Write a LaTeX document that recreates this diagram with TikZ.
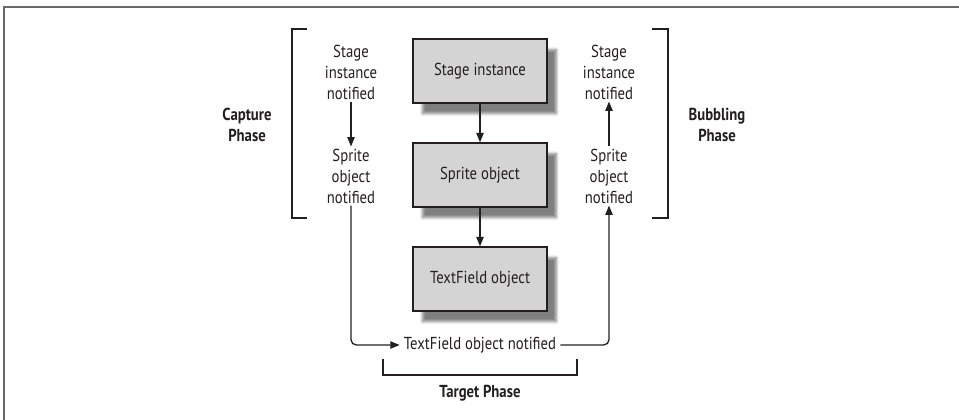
\documentclass[tikz,border=0pt]{standalone}
\usepackage{fontspec}
\setmainfont{PT Sans}[FakeStretch=0.85]
\usepackage{tikz}
\usetikzlibrary{arrows.meta, positioning, shadows.blur}
\definecolor{cInk}{RGB}{35,31,32}
\definecolor{cBox}{RGB}{212,212,212}
\definecolor{cFrame}{RGB}{105,105,105}
\tikzset{
	objbox/.style   ={rectangle, draw=cInk, line width=1pt, fill=cBox, minimum width=100.5pt, minimum height=48pt, align=center, blur shadow={shadow xshift=7pt, shadow yshift=-8pt, shadow blur steps=6, shadow opacity=50}},
	notice/.style   ={align=center, inner sep=1.5pt},
	phase/.style    ={align=center, font=\fontsize{13pt}{15.75pt}\selectfont\bfseries},
	flowarrow/.style={-{Triangle[length=7pt, width=5.5pt]}, line width=1pt, cInk},
	% brackets around the phases
	bracket/.style  ={line width=1pt, cInk},
}
\begin{document}
\begin{tikzpicture}[x=0.75pt, y=-0.75pt, font=\fontsize{13pt}{15.75pt}\selectfont, text=cInk]
	\useasboundingbox (0,0) rectangle (959,420);
	\draw[cFrame, line width=1.2pt] (4,420) -- (4,7) -- (959,7);
	% object chain
	\node[objbox] (stage)  at (480,71)  {Stage instance};
	\node[objbox] (sprite) at (480,175) {Sprite object};
	\node[objbox] (field)  at (480,279) {TextField object};
	\draw[flowarrow] (stage.south) -- (sprite.north);
	\draw[flowarrow] (sprite.south) -- (field.north);
	% capture side
	\node[notice] (capStage)  at (351,72)  {Stage\\instance\\notified};
	\node[notice] (capSprite) at (351,176) {Sprite\\object\\notified};
	\draw[flowarrow] (capStage.south) -- (capSprite.north);
	% bubbling side
	\node[notice] (bubStage)  at (609,72)  {Stage\\instance\\notified};
	\node[notice] (bubSprite) at (609,176) {Sprite\\object\\notified};
	\draw[flowarrow] (bubSprite.north) -- (bubStage.south);
	% target
	\node[notice, inner sep=3pt] (fieldNote) at (480,345) {TextField object notified};
	\draw[flowarrow, rounded corners=4pt] (capSprite.south) |- (fieldNote.west);
	\draw[flowarrow, rounded corners=4pt] (fieldNote.east) -| (bubSprite.south);
	% phases
	\draw[bracket] (307,29) -- (292,29) -- (292,218) -- (307,218);
	\draw[bracket] (652,29) -- (668,29) -- (668,218) -- (652,218);
	\draw[bracket] (383,359) -- (383,375) -- (577,375) -- (577,359);
	\node[phase] (capPhase) at (247,125) {Capture\\Phase};
	\node[phase] (bubPhase) at (717,125) {Bubbling\\Phase};
	\node[phase] (tarPhase) at (480,393) {Target Phase};
\end{tikzpicture}
\end{document}
